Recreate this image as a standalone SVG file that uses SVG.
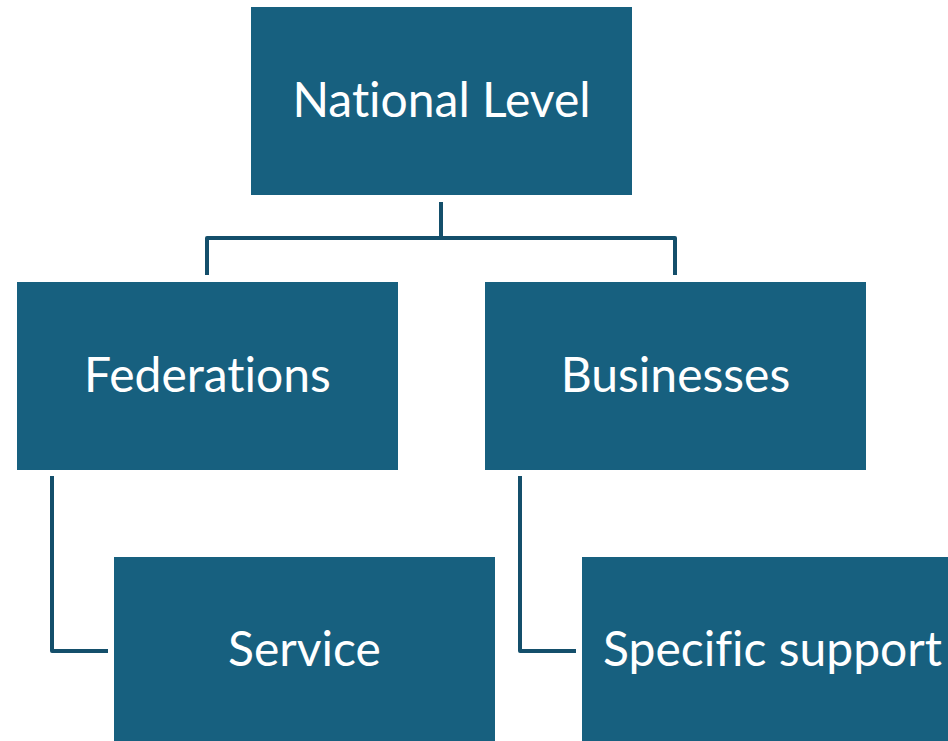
<svg xmlns="http://www.w3.org/2000/svg" width="948" height="741" viewBox="0 0 948 741">
<style>
.box{fill:#17607f;}
.lbl{fill:#ffffff;font-family:Lato,"Noto Sans",sans-serif;font-size:48px;text-anchor:middle;font-variant-ligatures:none;font-feature-settings:"liga" 0;}
.conn{fill:none;stroke:#144f6b;stroke-width:4;stroke-linejoin:round;}
</style>
<rect width="948" height="741" fill="#ffffff"/>
<g id="connectors">
<path class="conn" d="M441,202 V238"/>
<path class="conn" d="M207,275 V238 H675 V275"/>
<path class="conn" d="M52,476 V651 H108"/>
<path class="conn" d="M520,476 V651 H576"/>
</g>
<g id="national"><rect class="box" x="251" y="7" width="381" height="188"/><text class="lbl" x="441.5" y="117">National Level</text></g>
<g id="federations"><rect class="box" x="17" y="282" width="381" height="188"/><text class="lbl" x="207.5" y="392">Federations</text></g>
<g id="businesses"><rect class="box" x="485" y="282" width="381" height="188"/><text class="lbl" x="675.5" y="392">Businesses</text></g>
<g id="service"><rect class="box" x="114" y="557" width="381" height="188"/><text class="lbl" x="304.5" y="666">Service</text></g>
<g id="support"><rect class="box" x="582" y="557" width="381" height="188"/><text class="lbl" x="772.5" y="666">Specific support</text></g>
</svg>
